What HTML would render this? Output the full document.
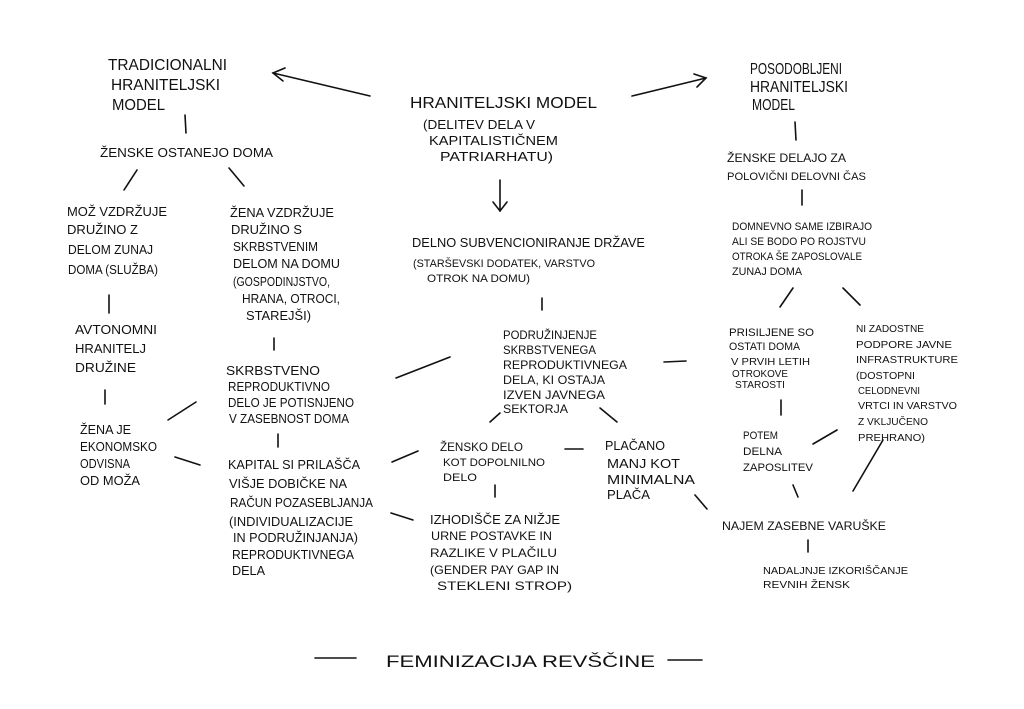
<!DOCTYPE html>
<html><head><meta charset="utf-8"><style>
html,body{margin:0;padding:0;background:#fff;width:1024px;height:709px;overflow:hidden}
svg{display:block}
text{font-family:"Liberation Sans",sans-serif;fill:#111;}
line,path{stroke:#111;stroke-width:1.6;stroke-linecap:round;fill:none}
</style></head><body>
<svg width="1024" height="709" viewBox="0 0 1024 709" xmlns="http://www.w3.org/2000/svg">
<g font-size="16" lengthAdjust="spacingAndGlyphs">
<text x="108" y="70" textLength="119" lengthAdjust="spacingAndGlyphs">TRADICIONALNI</text>
<text x="111" y="90" textLength="109" lengthAdjust="spacingAndGlyphs">HRANITELJSKI</text>
<text x="112" y="110" textLength="53" lengthAdjust="spacingAndGlyphs">MODEL</text>
<text x="410" y="108" textLength="187" lengthAdjust="spacingAndGlyphs">HRANITELJSKI MODEL</text>
<text x="750" y="74" textLength="92" lengthAdjust="spacingAndGlyphs">POSODOBLJENI</text>
<text x="750" y="92" textLength="98" lengthAdjust="spacingAndGlyphs">HRANITELJSKI</text>
<text x="752" y="110" textLength="43" lengthAdjust="spacingAndGlyphs">MODEL</text>
<text x="386" y="667" font-size="17" textLength="269" lengthAdjust="spacingAndGlyphs">FEMINIZACIJA REVŠČINE</text>
</g>
<g font-size="13">
<text x="423" y="129" textLength="112" lengthAdjust="spacingAndGlyphs">(DELITEV DELA V</text>
<text x="429" y="145" textLength="129" lengthAdjust="spacingAndGlyphs">KAPITALISTIČNEM</text>
<text x="440" y="161" textLength="113" lengthAdjust="spacingAndGlyphs">PATRIARHATU)</text>
<text x="100" y="157" textLength="173" lengthAdjust="spacingAndGlyphs">ŽENSKE OSTANEJO DOMA</text>

<text x="67" y="216" textLength="100" lengthAdjust="spacingAndGlyphs">MOŽ VZDRŽUJE</text>
<text x="67" y="234" textLength="71" lengthAdjust="spacingAndGlyphs">DRUŽINO Z</text>
<text x="68" y="254" textLength="85" lengthAdjust="spacingAndGlyphs">DELOM ZUNAJ</text>
<text x="68" y="274" textLength="90" lengthAdjust="spacingAndGlyphs">DOMA (SLUŽBA)</text>

<text x="230" y="217" textLength="104" lengthAdjust="spacingAndGlyphs">ŽENA VZDRŽUJE</text>
<text x="231" y="234" textLength="71" lengthAdjust="spacingAndGlyphs">DRUŽINO S</text>
<text x="233" y="251" textLength="85" lengthAdjust="spacingAndGlyphs">SKRBSTVENIM</text>
<text x="233" y="268" textLength="107" lengthAdjust="spacingAndGlyphs">DELOM NA DOMU</text>
<text x="233" y="286" textLength="97" lengthAdjust="spacingAndGlyphs">(GOSPODINJSTVO,</text>
<text x="242" y="303" textLength="98" lengthAdjust="spacingAndGlyphs">HRANA, OTROCI,</text>
<text x="246" y="320" textLength="65" lengthAdjust="spacingAndGlyphs">STAREJŠI)</text>

<text x="75" y="334" textLength="82" lengthAdjust="spacingAndGlyphs">AVTONOMNI</text>
<text x="75" y="353" textLength="71" lengthAdjust="spacingAndGlyphs">HRANITELJ</text>
<text x="75" y="372" textLength="61" lengthAdjust="spacingAndGlyphs">DRUŽINE</text>

<text x="80" y="434" textLength="51" lengthAdjust="spacingAndGlyphs">ŽENA JE</text>
<text x="80" y="451" textLength="77" lengthAdjust="spacingAndGlyphs">EKONOMSKO</text>
<text x="80" y="468" textLength="50" lengthAdjust="spacingAndGlyphs">ODVISNA</text>
<text x="80" y="485" textLength="60" lengthAdjust="spacingAndGlyphs">OD MOŽA</text>

<text x="226" y="375" textLength="94" lengthAdjust="spacingAndGlyphs">SKRBSTVENO</text>
<text x="228" y="391" textLength="102" lengthAdjust="spacingAndGlyphs">REPRODUKTIVNO</text>
<text x="228" y="407" textLength="126" lengthAdjust="spacingAndGlyphs">DELO JE POTISNJENO</text>
<text x="229" y="423" textLength="120" lengthAdjust="spacingAndGlyphs">V ZASEBNOST DOMA</text>

<text x="228" y="469" textLength="132" lengthAdjust="spacingAndGlyphs">KAPITAL SI PRILAŠČA</text>
<text x="229" y="488" textLength="118" lengthAdjust="spacingAndGlyphs">VIŠJE DOBIČKE NA</text>
<text x="230" y="507" textLength="143" lengthAdjust="spacingAndGlyphs">RAČUN POZASEBLJANJA</text>
<text x="229" y="526" textLength="124" lengthAdjust="spacingAndGlyphs">(INDIVIDUALIZACIJE</text>
<text x="233" y="542" textLength="125" lengthAdjust="spacingAndGlyphs">IN PODRUŽINJANJA)</text>
<text x="232" y="559" textLength="122" lengthAdjust="spacingAndGlyphs">REPRODUKTIVNEGA</text>
<text x="232" y="575" textLength="33" lengthAdjust="spacingAndGlyphs">DELA</text>

<text x="412" y="247" textLength="233" lengthAdjust="spacingAndGlyphs">DELNO SUBVENCIONIRANJE DRŽAVE</text>
<text x="413" y="267" font-size="11" textLength="182" lengthAdjust="spacingAndGlyphs">(STARŠEVSKI DODATEK, VARSTVO</text>
<text x="427" y="282" font-size="11" textLength="103" lengthAdjust="spacingAndGlyphs">OTROK NA DOMU)</text>

<text x="503" y="339" font-size="12" textLength="94" lengthAdjust="spacingAndGlyphs">PODRUŽINJENJE</text>
<text x="503" y="354" font-size="12" textLength="93" lengthAdjust="spacingAndGlyphs">SKRBSTVENEGA</text>
<text x="503" y="369" font-size="12" textLength="124" lengthAdjust="spacingAndGlyphs">REPRODUKTIVNEGA</text>
<text x="503" y="384" font-size="12" textLength="102" lengthAdjust="spacingAndGlyphs">DELA, KI OSTAJA</text>
<text x="503" y="399" font-size="12" textLength="102" lengthAdjust="spacingAndGlyphs">IZVEN JAVNEGA</text>
<text x="503" y="413" font-size="12" textLength="65" lengthAdjust="spacingAndGlyphs">SEKTORJA</text>

<text x="440" y="451" font-size="12" textLength="83" lengthAdjust="spacingAndGlyphs">ŽENSKO DELO</text>
<text x="443" y="466" font-size="11" textLength="102" lengthAdjust="spacingAndGlyphs">KOT DOPOLNILNO</text>
<text x="443" y="481" font-size="11" textLength="34" lengthAdjust="spacingAndGlyphs">DELO</text>

<text x="605" y="450" textLength="60" lengthAdjust="spacingAndGlyphs">PLAČANO</text>
<text x="607" y="468" textLength="73" lengthAdjust="spacingAndGlyphs">MANJ KOT</text>
<text x="607" y="484" textLength="88" lengthAdjust="spacingAndGlyphs">MINIMALNA</text>
<text x="607" y="499" textLength="43" lengthAdjust="spacingAndGlyphs">PLAČA</text>

<text x="430" y="524" textLength="130" lengthAdjust="spacingAndGlyphs">IZHODIŠČE ZA NIŽJE</text>
<text x="431" y="540" font-size="12" textLength="121" lengthAdjust="spacingAndGlyphs">URNE POSTAVKE IN</text>
<text x="430" y="557" font-size="12" textLength="127" lengthAdjust="spacingAndGlyphs">RAZLIKE V PLAČILU</text>
<text x="430" y="574" font-size="12" textLength="129" lengthAdjust="spacingAndGlyphs">(GENDER PAY GAP IN</text>
<text x="437" y="590" font-size="12" textLength="135" lengthAdjust="spacingAndGlyphs">STEKLENI STROP)</text>

<text x="727" y="162" font-size="12" textLength="119" lengthAdjust="spacingAndGlyphs">ŽENSKE DELAJO ZA</text>
<text x="727" y="180" font-size="11" textLength="139" lengthAdjust="spacingAndGlyphs">POLOVIČNI DELOVNI ČAS</text>

<text x="732" y="230" font-size="11" textLength="140" lengthAdjust="spacingAndGlyphs">DOMNEVNO SAME IZBIRAJO</text>
<text x="732" y="245" font-size="11" textLength="134" lengthAdjust="spacingAndGlyphs">ALI SE BODO PO ROJSTVU</text>
<text x="732" y="260" font-size="11" textLength="130" lengthAdjust="spacingAndGlyphs">OTROKA ŠE ZAPOSLOVALE</text>
<text x="732" y="275" font-size="11" textLength="70" lengthAdjust="spacingAndGlyphs">ZUNAJ DOMA</text>

<text x="729" y="336" font-size="11" textLength="85" lengthAdjust="spacingAndGlyphs">PRISILJENE SO</text>
<text x="729" y="350" font-size="11" textLength="71" lengthAdjust="spacingAndGlyphs">OSTATI DOMA</text>
<text x="731" y="365" font-size="10" textLength="79" lengthAdjust="spacingAndGlyphs">V PRVIH LETIH</text>
<text x="732" y="377" font-size="10" textLength="56" lengthAdjust="spacingAndGlyphs">OTROKOVE</text>
<text x="735" y="388" font-size="10" textLength="50" lengthAdjust="spacingAndGlyphs">STAROSTI</text>

<text x="856" y="332" font-size="10" textLength="68" lengthAdjust="spacingAndGlyphs">NI ZADOSTNE</text>
<text x="856" y="348" font-size="10" textLength="96" lengthAdjust="spacingAndGlyphs">PODPORE JAVNE</text>
<text x="856" y="363" font-size="10" textLength="102" lengthAdjust="spacingAndGlyphs">INFRASTRUKTURE</text>
<text x="856" y="379" font-size="10" textLength="59" lengthAdjust="spacingAndGlyphs">(DOSTOPNI</text>
<text x="858" y="394" font-size="10" textLength="62" lengthAdjust="spacingAndGlyphs">CELODNEVNI</text>
<text x="858" y="409" font-size="10" textLength="99" lengthAdjust="spacingAndGlyphs">VRTCI IN VARSTVO</text>
<text x="858" y="425" font-size="10" textLength="70" lengthAdjust="spacingAndGlyphs">Z VKLJUČENO</text>
<text x="858" y="441" font-size="10" textLength="67" lengthAdjust="spacingAndGlyphs">PREHRANO)</text>

<text x="743" y="439" font-size="11" textLength="35" lengthAdjust="spacingAndGlyphs">POTEM</text>
<text x="743" y="455" font-size="11" textLength="39" lengthAdjust="spacingAndGlyphs">DELNA</text>
<text x="743" y="471" font-size="11" textLength="70" lengthAdjust="spacingAndGlyphs">ZAPOSLITEV</text>

<text x="722" y="530" font-size="12" textLength="164" lengthAdjust="spacingAndGlyphs">NAJEM ZASEBNE VARUŠKE</text>
<text x="763" y="574" font-size="10" textLength="145" lengthAdjust="spacingAndGlyphs">NADALJNJE IZKORIŠČANJE</text>
<text x="763" y="588" font-size="10" textLength="87" lengthAdjust="spacingAndGlyphs">REVNIH ŽENSK</text>
</g>

<!-- arrows -->
<line x1="370" y1="96" x2="273" y2="73"/><path d="M285 68 L273 73 L283 81"/>
<line x1="632" y1="96" x2="706" y2="78"/><path d="M694 74 L706 78 L697 87"/>
<line x1="500" y1="180" x2="500" y2="211"/><path d="M493 202 L500 211 L507 202"/>

<line x1="185" y1="115" x2="186" y2="133"/>
<line x1="137" y1="170" x2="124" y2="190"/>
<line x1="229" y1="168" x2="244" y2="186"/>
<line x1="109" y1="295" x2="109" y2="313"/>
<line x1="105" y1="390" x2="105" y2="404"/>
<line x1="274" y1="338" x2="274" y2="350"/>
<line x1="168" y1="420" x2="196" y2="402"/>
<line x1="175" y1="457" x2="200" y2="465"/>
<line x1="278" y1="434" x2="278" y2="447"/>
<line x1="396" y1="378" x2="450" y2="357"/>
<line x1="392" y1="462" x2="418" y2="451"/>
<line x1="391" y1="513" x2="413" y2="520"/>
<line x1="542" y1="298" x2="542" y2="310"/>
<line x1="664" y1="362" x2="686" y2="361"/>
<line x1="490" y1="422" x2="500" y2="413"/>
<line x1="600" y1="408" x2="617" y2="422"/>
<line x1="565" y1="449" x2="583" y2="449"/>
<line x1="495" y1="485" x2="495" y2="497"/>
<line x1="695" y1="495" x2="707" y2="509"/>
<line x1="795" y1="122" x2="796" y2="140"/>
<line x1="802" y1="190" x2="802" y2="205"/>
<line x1="793" y1="288" x2="780" y2="307"/>
<line x1="843" y1="288" x2="860" y2="305"/>
<line x1="781" y1="400" x2="781" y2="415"/>
<line x1="813" y1="444" x2="837" y2="430"/>
<line x1="883" y1="440" x2="853" y2="491"/>
<line x1="793" y1="485" x2="798" y2="497"/>
<line x1="808" y1="540" x2="808" y2="552"/>
<line x1="315" y1="658" x2="356" y2="658"/>
<line x1="668" y1="660" x2="702" y2="660"/>
</svg>
</body></html>
